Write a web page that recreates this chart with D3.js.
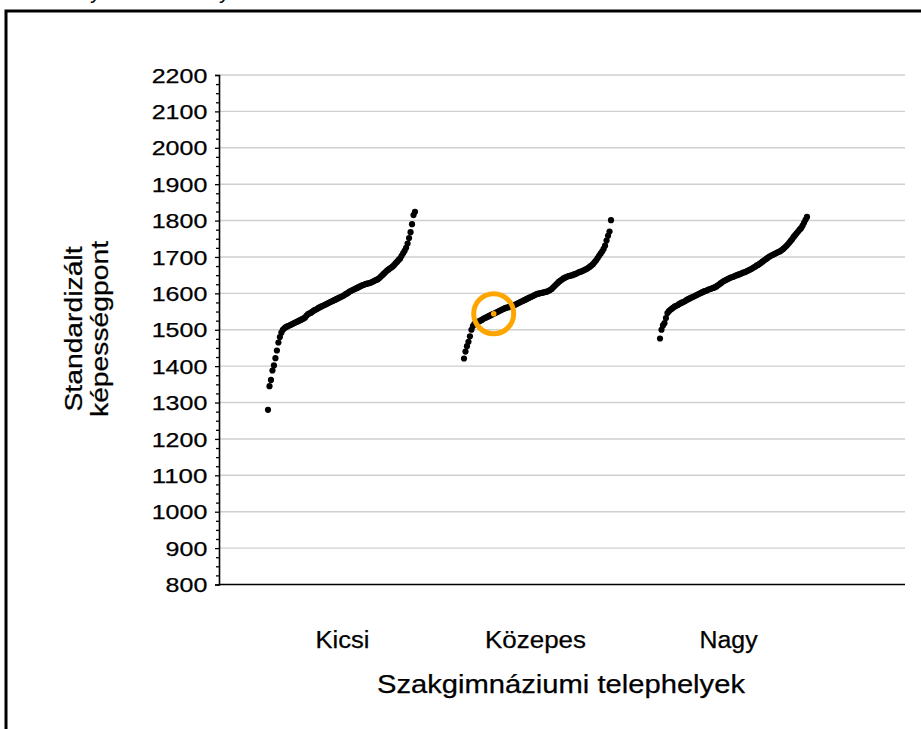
<!DOCTYPE html>
<html>
<head>
<meta charset="utf-8">
<script src="https://cdn.jsdelivr.net/npm/d3@7/dist/d3.min.js"></script>
<style>
  html, body { margin: 0; padding: 0; background: #fff; }
  svg { display: block; }
</style>
</head>
<body>
<script>
// ---------- DATA ----------
const categories = ["Kicsi", "Közepes", "Nagy"];
const yTicks = [800, 900, 1000, 1100, 1200, 1300, 1400, 1500, 1600, 1700, 1800, 1900, 2000, 2100, 2200];
const yTitleLines = ["Standardizált", "képességpont"];
const xTitle = "Szakgimnáziumi telephelyek";

// sorted standardized scores per site group
const kicsi = [1280,1345,1362,1388,1402,1422,1443,1465,1480,1492,
  1500,1504,1507,1509,1511,1513,1515,1517,1519,1521,
  1523,1525,1527,1529,1531,1534,1539,1543,1545,1547,
  1550,1553,1555,1557,1560,1562,1564,1566,1568,1570,
  1572,1574,1576,1578,1580,1582,1584,1586,1588,1590,
  1592,1594,1597,1599,1602,1605,1607,1609,1611,1613,
  1615,1617,1619,1621,1623,1624,1626,1627,1628,1629,
  1631,1633,1635,1637,1639,1642,1646,1650,1654,1658,
  1662,1665,1668,1671,1674,1678,1683,1687,1692,1696,
  1703,1710,1717,1725,1737,1752,1768,1790,1815,1824];
const kozepes = [1421,1440,1455,1467,1482,1500,1510,1516,1519,1521,
  1523,1525,1527,1530,1532,1534,1536,1538,1540,1542,
  1544,1546,1548,1550,1552,1554,1556,1558,1560,1561,
  1562,1564,1565,1567,1568,1570,1572,1574,1576,1578,
  1580,1582,1584,1586,1588,1590,1592,1594,1596,1598,
  1599,1600,1601,1602,1603,1604,1605,1607,1609,1612,
  1616,1620,1624,1628,1632,1635,1638,1641,1643,1645,
  1647,1648,1649,1650,1652,1653,1655,1657,1659,1660,
  1662,1664,1666,1668,1671,1674,1677,1681,1686,1691,
  1697,1703,1709,1715,1722,1731,1745,1758,1770,1801];
const nagy = [1476,1500,1512,1518,1532,1546,1551,1555,1558,1561,
  1564,1566,1568,1571,1573,1575,1577,1579,1582,1584,
  1586,1588,1590,1592,1594,1596,1598,1600,1602,1604,
  1606,1607,1609,1611,1612,1614,1615,1617,1619,1622,
  1625,1628,1631,1634,1636,1638,1640,1642,1644,1645,
  1647,1649,1650,1652,1653,1655,1657,1658,1660,1662,
  1664,1666,1668,1671,1673,1676,1678,1681,1684,1687,
  1690,1693,1696,1699,1702,1704,1706,1708,1710,1712,
  1714,1716,1719,1722,1726,1730,1734,1739,1744,1749,
  1755,1760,1765,1770,1775,1779,1786,1794,1802,1810];
const seriesValues = [kicsi, kozepes, nagy];
// highlighted school (Közepes group, rank index)
const highlightGroup = 1;
const highlightIndex = 20;

// ---------- LAYOUT ----------
const W = 921, H = 729;
const plot = { left: 219, right: 905, top: 75, bottom: 584.5 };
const groupSpan = 0.75, groupStart = 0.25;     // in x units (1 unit per group)
const labelPos = [0.63, 1.615, 2.6];
const FONT = "Liberation Sans, Arial, sans-serif";

const svg = d3.select("body").append("svg").attr("width", W).attr("height", H);

// outer frame
svg.append("rect").attr("x", 6).attr("y", 11).attr("width", W + 20).attr("height", H + 20)
  .attr("fill", "none").attr("stroke", "#000").attr("stroke-width", 3);
// clipped title fragments above the frame (only descenders visible, as in the reference)
svg.append("text").attr("x", 90).attr("y", -2).attr("font-family", FONT)
  .attr("font-size", 22).text("y");
svg.append("text").attr("x", 219).attr("y", -2).attr("font-family", FONT)
  .attr("font-size", 22).text("y");

const x = d3.scaleLinear().domain([0, 3.5]).range([plot.left, plot.right]);
const y = d3.scaleLinear().domain([800, 2200]).range([plot.bottom, plot.top]);

// gridlines
svg.append("g").selectAll("line").data(yTicks.filter(v => v > 800)).join("line")
  .attr("x1", plot.left).attr("x2", plot.right)
  .attr("y1", d => y(d)).attr("y2", d => y(d))
  .attr("stroke", "#cfcfcf").attr("stroke-width", 1.4);

// minor ticks
const minor = d3.range(800, 2201, 25).filter(v => v % 100 !== 0);
svg.append("g").attr("transform", `translate(${plot.left},0)`)
  .call(d3.axisLeft(y).tickValues(minor).tickSize(3).tickFormat(""))
  .call(g => g.select(".domain").remove())
  .call(g => g.selectAll("line").attr("stroke", "#000").attr("stroke-width", 1.3));

// y axis
const yAxis = svg.append("g").attr("transform", `translate(${plot.left},0)`)
  .call(d3.axisLeft(y).tickValues(yTicks).tickSize(4).tickPadding(7.7).tickFormat(d3.format("d")));
yAxis.select(".domain").attr("stroke", "#000").attr("stroke-width", 1.6);
yAxis.selectAll(".tick line").attr("stroke", "#000").attr("stroke-width", 1.3);
yAxis.selectAll(".tick text")
  .attr("font-family", FONT)
  .attr("font-size", 20).attr("fill", "#000")
  .attr("dy", "0.36em")
  .attr("stroke", "#000").attr("stroke-width", 0.25)
  .attr("textLength", d => String(d).length * 13.9)
  .attr("lengthAdjust", "spacingAndGlyphs");

// bottom axis line
svg.append("line").attr("x1", plot.left).attr("x2", plot.right)
  .attr("y1", y(800)).attr("y2", y(800)).attr("stroke", "#000").attr("stroke-width", 1.6);

// points
seriesValues.forEach((vals, g) => {
  const n = vals.length;
  svg.append("g").selectAll("circle").data(vals).join("circle")
    .attr("cx", (d, i) => x(g + groupStart + groupSpan * i / (n - 1)))
    .attr("cy", d => y(d))
    .attr("r", 3.1)
    .attr("fill", "#000");
});

// highlight
{
  const vals = seriesValues[highlightGroup];
  const hx = x(highlightGroup + groupStart + groupSpan * highlightIndex / (vals.length - 1));
  const hy = y(vals[highlightIndex]);
  svg.append("circle").attr("cx", hx).attr("cy", hy).attr("r", 2.8).attr("fill", "#FFA500");
  svg.append("circle").attr("cx", hx).attr("cy", hy).attr("r", 20)
    .attr("fill", "none").attr("stroke", "#FFA500").attr("stroke-width", 5);
}

// category labels
const catLen = [54, 101, 58];
svg.append("g").selectAll("text").data(categories).join("text")
  .attr("x", (d, i) => x(labelPos[i]))
  .attr("y", 647.5)
  .attr("text-anchor", "middle")
  .attr("font-family", FONT)
  .attr("font-size", 23.5).attr("fill", "#000")
  .attr("stroke", "#000").attr("stroke-width", 0.25)
  .attr("textLength", (d, i) => catLen[i]).attr("lengthAdjust", "spacingAndGlyphs")
  .text(d => d);

// x title
svg.append("text").attr("x", 561).attr("y", 692.5).attr("text-anchor", "middle")
  .attr("font-family", FONT)
  .attr("font-size", 25.5).attr("fill", "#000")
  .attr("stroke", "#000").attr("stroke-width", 0.25)
  .attr("textLength", 368).attr("lengthAdjust", "spacingAndGlyphs")
  .text(xTitle);

// y title
const yTitleLen = [165, 176];
const yTitleBase = [82, 108];
yTitleLines.forEach((t, i) => {
  svg.append("text")
    .attr("transform", `translate(${yTitleBase[i]},329) rotate(-90)`)
    .attr("text-anchor", "middle")
    .attr("font-family", FONT)
    .attr("font-size", 23).attr("fill", "#000")
    .attr("stroke", "#000").attr("stroke-width", 0.25)
    .attr("textLength", yTitleLen[i]).attr("lengthAdjust", "spacingAndGlyphs")
    .text(t);
});
</script>
</body>
</html>
